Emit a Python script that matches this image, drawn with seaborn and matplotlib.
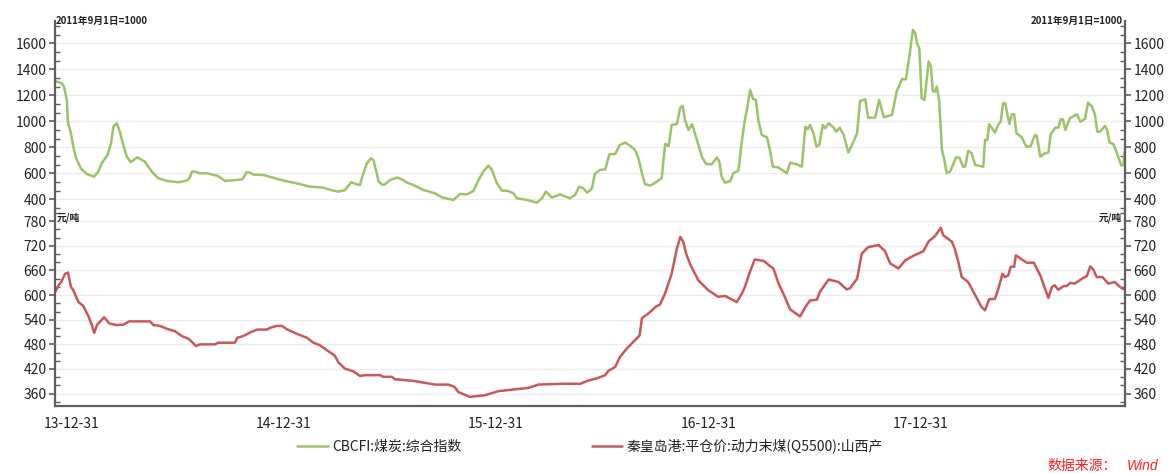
import numpy as np
import pandas as pd
import matplotlib
matplotlib.use("Agg")
import matplotlib.pyplot as plt
import matplotlib.dates as mdates
from matplotlib.ticker import MultipleLocator, FixedLocator
from matplotlib.lines import Line2D
import seaborn as sns

# ---------------- data (x = days since base_date) ----------------
base_date = "2013-12-31"

green_name = "CBCFI:煤炭:综合指数"
green_days = [-28, -17, -13, -8, -6, -1, 3, 8, 16, 26, 39, 46, 52, 62, 68, 72, 78, 83, 89, 95,
              102, 113, 126, 138, 149, 164, 184, 198, 203, 207, 212, 221, 233, 252, 264, 284, 294,
              301, 307, 313, 330, 364, 387, 410, 433, 445, 459, 470, 481, 491, 496, 501, 508, 515,
              519, 525, 528, 535, 539, 548, 560, 568, 577, 588, 605, 625, 637, 657, 668, 680, 691,
              700, 708, 717, 723, 731, 740, 751, 760, 766, 783, 800, 809, 816, 826, 840, 857, 866,
              873, 880, 887, 895, 900, 909, 918, 925, 935, 943, 952, 960, 969, 975, 981, 986, 995,
              1004, 1015, 1018, 1021, 1027, 1032, 1041, 1047, 1051, 1055, 1061, 1067, 1072, 1078,
              1084, 1091, 1101, 1110, 1114, 1118, 1124, 1133, 1138, 1147, 1153, 1158, 1162, 1167,
              1172, 1177, 1181, 1187, 1196, 1201, 1206, 1216, 1230, 1236, 1247, 1256, 1262, 1266,
              1270, 1276, 1281, 1286, 1292, 1296, 1302, 1310, 1315, 1321, 1328, 1336, 1344, 1351,
              1356, 1365, 1370, 1382, 1389, 1397, 1411, 1419, 1428, 1435, 1442, 1447, 1451, 1454,
              1458, 1462, 1467, 1474, 1478, 1481, 1485, 1488, 1492, 1497, 1501, 1505, 1511, 1521,
              1527, 1533, 1537, 1542, 1548, 1554, 1568, 1571, 1575, 1578, 1583, 1588, 1594, 1598,
              1602, 1606, 1610, 1613, 1617, 1621, 1625, 1634, 1642, 1649, 1657, 1660, 1666, 1674,
              1680, 1684, 1692, 1697, 1701, 1705, 1709, 1717, 1729, 1735, 1743, 1748, 1755, 1760,
              1764, 1769, 1777, 1781, 1785, 1792, 1799, 1805, 1809, 1811]
green_vals = [1310, 1292, 1267, 1164, 985, 908, 805, 715, 638, 595, 574, 613, 677, 741, 831, 959, 985, 920, 818, 728,
              685, 723, 690, 613, 562, 541, 531, 544, 562, 613, 613, 600, 600, 579, 541, 549, 554,
              608, 605, 590, 587, 544, 523, 497, 490, 472, 459, 470, 531, 515, 510, 587, 677, 715,
              703, 600, 536, 510, 515, 549, 567, 554, 528, 510, 472, 446, 415, 395, 441, 438, 464,
              549, 613, 659, 626, 528, 467, 464, 446, 408, 395, 374, 408, 459, 413, 438, 408, 433,
              497, 485, 451, 485, 595, 626, 631, 746, 749, 818, 836, 814, 780, 715, 600, 518, 505,
              528, 562, 703, 826, 810, 972, 979, 1105, 1118, 1010, 933, 977, 908, 818,
              728, 672, 669, 721, 690, 574, 528, 541, 600, 621, 856, 1010, 1100, 1241,
              1172, 1164, 1010, 895, 877, 779, 651, 644, 600, 682, 669, 651, 959, 938,
              972, 908, 805, 818, 972, 946, 985, 954, 920, 951, 895, 759, 836, 908,
              1156, 1169, 1028, 1028, 1164, 1031, 1049, 1228, 1323, 1323, 1536, 1703, 1677, 1600,
              1562, 1177, 1164, 1459, 1420, 1233, 1228, 1267, 1164, 779, 703, 600, 613, 721,
              721, 651, 651, 772, 754, 664, 651, 856, 856, 977, 946, 913, 977, 997,
              1138, 1138, 1036, 979, 1054, 1054, 908, 877, 805, 805, 895, 887, 728, 754,
              759, 900, 951, 951, 1015, 1015, 933, 1023, 1054, 997, 1018, 1143, 1113, 1049,
              920, 920, 964, 933, 838, 823, 741, 664, 664, 767]

red_name = "秦皇岛港:平仓价:动力末煤(Q5500):山西产"
red_days = [-28, -23, -17, -11, -6, -1, 3, 12, 20, 29, 35, 39, 44, 49, 56, 65, 78, 89, 99, 135,
            141, 152, 164, 178, 190, 201, 207, 214, 221, 247, 252, 281, 285, 295, 307, 319, 336,
            341, 353, 362, 370, 387, 405, 416, 427, 439, 453, 459, 470, 485, 496, 505, 531, 536,
            551, 556, 565, 588, 608, 625, 648, 659, 665, 685, 711, 734, 760, 786, 803, 846, 875,
            889, 903, 918, 923, 935, 943, 955, 966, 977, 981, 992, 1004, 1012, 1021, 1032, 1041,
            1047, 1052, 1057, 1064, 1078, 1095, 1112, 1124, 1144, 1153, 1158, 1167, 1175, 1191,
            1201, 1207, 1216, 1224, 1236, 1244, 1253, 1262, 1270, 1282, 1287, 1302, 1319, 1333,
            1339, 1351, 1359, 1370, 1388, 1399, 1408, 1422, 1434, 1448, 1465, 1474, 1485, 1495,
            1499, 1514, 1519, 1525, 1531, 1542, 1554, 1565, 1571, 1578, 1588, 1594, 1601, 1605,
            1611, 1615, 1621, 1624, 1634, 1643, 1655, 1666, 1680, 1686, 1691, 1697, 1706, 1711,
            1718, 1725, 1740, 1746, 1752, 1757, 1763, 1773, 1783, 1794, 1803, 1810]
red_vals = [608, 622, 634, 652, 655, 620, 612, 583, 574, 549, 527, 508, 528, 535, 546, 531, 527, 528, 536, 536,
            527, 525, 518, 512, 500, 494, 486, 476, 480, 480, 484, 484, 496, 500, 509, 516, 516,
            520, 525, 525, 517, 506, 496, 484, 478, 466, 452, 436, 421, 414, 403, 405, 405, 401,
            401, 395, 394, 391, 386, 382, 382, 376, 364, 352, 356, 366, 370, 374, 382, 384, 384,
            392, 397, 405, 415, 425, 449, 470, 486, 502, 544, 555, 571, 577, 605, 652, 713,
            742, 730, 701, 675, 636, 612, 596, 598, 583, 604, 620, 658, 687, 683,
            671, 665, 628, 604, 565, 557, 548, 571, 587, 589, 608, 638, 632, 614,
            617, 640, 701, 717, 722, 707, 677, 665, 685, 696, 707, 731, 744, 764,
            746, 730, 713, 681, 644, 632, 600, 571, 563, 590, 591, 616, 652, 644,
            648, 669, 669, 697, 687, 679, 679, 648, 593, 620, 624, 613, 622, 622,
            630, 628, 642, 646, 670, 663, 644, 644, 628, 632, 620, 614]

top_unit = "2011年9月1日=1000"
bottom_unit = "元/吨"
top_yticks = [400, 600, 800, 1000, 1200, 1400, 1600]
bottom_yticks = [360, 420, 480, 540, 600, 660, 720, 780]
x_tick_dates = ["2013-12-31", "2014-12-31", "2015-12-31", "2016-12-31", "2017-12-31"]
source_label = "数据来源："
source_name = "Wind"

# ---------------- style ----------------
GREEN = "#9DC368"
RED = "#C9585A"
SPINE = "#5f5f5f"
TXT = "#222222"
GRID = "#ececec"

sns.set_style("white")
plt.rcParams["font.family"] = ["Noto Sans CJK SC", "DejaVu Sans"]
plt.rcParams["axes.unicode_minus"] = False

W, H = 1170, 473
fig = plt.figure(figsize=(W / 100, H / 100), dpi=100)


def fx(px):
    return px / W


def fy(py):
    return 1 - py / H


L, R = 55, 1125
T1, MID, B2 = 21, 211, 405.5
ax1 = fig.add_axes([fx(L), fy(MID), fx(R - L), (MID - T1) / H])
ax2 = fig.add_axes([fx(L), fy(B2), fx(R - L), (B2 - MID) / H], sharex=ax1)

base = pd.Timestamp(base_date)
gdf = pd.DataFrame({"date": base + pd.to_timedelta(green_days, unit="D"), "value": green_vals})
rdf = pd.DataFrame({"date": base + pd.to_timedelta(red_days, unit="D"), "value": red_vals})

sns.lineplot(data=gdf, x="date", y="value", ax=ax1, color=GREEN, linewidth=1.8,
             estimator=None, legend=False)
sns.lineplot(data=rdf, x="date", y="value", ax=ax2, color=RED, linewidth=1.8,
             estimator=None, legend=False)

ax1.set_ylim(310, 1771)
ax2.set_ylim(331, 805)
ax2.set_xlim(base - pd.Timedelta(days=28.4), base + pd.Timedelta(days=1811.7))

for ax, ticks, minor in ((ax1, top_yticks, 200 / 3), (ax2, bottom_yticks, 20)):
    ax.set_xlabel("")
    ax.set_ylabel("")
    ax.yaxis.set_major_locator(FixedLocator(ticks))
    ax.yaxis.set_minor_locator(MultipleLocator(minor))
    ax.tick_params(axis="y", which="major", left=True, right=True, labelleft=True,
                   labelright=True, direction="out", length=4.5, width=1.2, color=SPINE,
                   labelsize=10, labelcolor=TXT, pad=1.5)
    ax.tick_params(axis="y", which="minor", left=True, right=True, direction="in",
                   length=3.5, width=1.0, color=SPINE)
    ax.grid(axis="y", which="major", color=GRID, linewidth=0.9)
    ax.grid(axis="x", visible=False)
    ax.set_axisbelow(True)
    ax.spines["top"].set_visible(False)
    for s in ("left", "right", "bottom"):
        ax.spines[s].set_color(SPINE)
        ax.spines[s].set_linewidth(1.6)
    ax.patch.set_alpha(0)

ax1.spines["bottom"].set_visible(False)
ax1.tick_params(axis="x", which="both", bottom=False, labelbottom=False)

major_x = mdates.date2num(pd.to_datetime(x_tick_dates))
minor_x = mdates.date2num(pd.to_datetime(
    [f"{y}-{m:02d}-{d}" for y in range(2014, 2019) for m, d in ((3, 31), (6, 30), (9, 30))]
    + ["2018-12-31"]))
ax2.xaxis.set_major_locator(FixedLocator(major_x))
ax2.xaxis.set_minor_locator(FixedLocator(minor_x))
ax2.xaxis.set_major_formatter(mdates.DateFormatter("%y-%m-%d"))
ax2.tick_params(axis="x", which="major", direction="out", length=5.5, width=1.2, color=SPINE,
                labelsize=10, labelcolor=TXT, pad=2.5)
ax2.tick_params(axis="x", which="minor", direction="out", length=3.5, width=1.0, color=SPINE)

# unit labels
fig.text(fx(56), fy(21), top_unit, ha="left", va="center", fontsize=7, fontweight="bold", color=TXT)
fig.text(fx(1123), fy(21), top_unit, ha="right", va="center", fontsize=7, fontweight="bold", color=TXT)
fig.text(fx(57), fy(218), bottom_unit, ha="left", va="center", fontsize=7, fontweight="bold", color=TXT)
fig.text(fx(1122), fy(218), bottom_unit, ha="right", va="center", fontsize=7, fontweight="bold", color=TXT)

# legend
handles = [Line2D([], [], color=GREEN, linewidth=1.8), Line2D([], [], color=RED, linewidth=1.8)]
fig.legend(handles, [green_name, red_name], loc="center", bbox_to_anchor=(fx(590), fy(446)),
           ncol=2, frameon=False, fontsize=10, handlelength=2.2, handletextpad=0.3,
           columnspacing=9.4, labelcolor=TXT)

# source
fig.text(fx(1047), fy(466), source_label, ha="left", va="center", fontsize=10, color="#FF2020")
fig.text(fx(1158), fy(466), source_name, ha="right", va="center", fontsize=10, color="#FF2020",
         fontstyle="italic", family="Liberation Sans")

fig.savefig("out.png", dpi=100)
